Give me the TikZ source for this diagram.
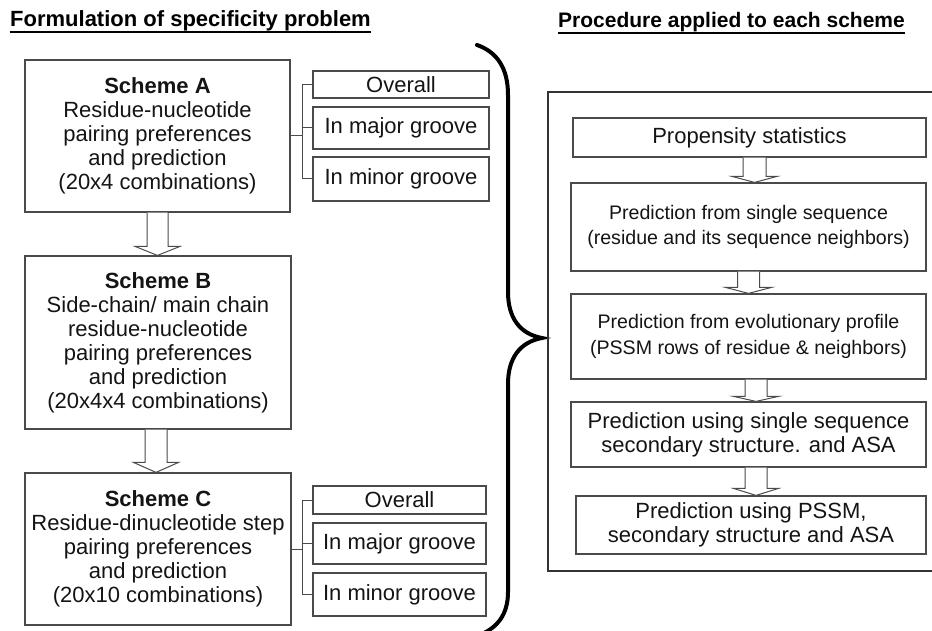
\documentclass[tikz,border=0pt]{standalone}
\usepackage{fontspec}
\setmainfont{Liberation Sans}
\usetikzlibrary{calc}
\definecolor{txt}{HTML}{141414}
\definecolor{edge}{HTML}{4A4A4A}
\tikzset{
  box/.style={draw=edge, line width=1.2pt, rectangle, inner sep=0pt, align=center,
    text=txt, font={\fontsize{22}{24}\selectfont}},
  smallbox/.style={box},
  rbox/.style={box},
  rboxsmall/.style={box, font={\fontsize{19.6}{25.5}\selectfont}},
  title/.style={inner sep=0pt, text=black, font={\fontsize{21.5}{24}\selectfont\bfseries}},
  uline/.style={line width=1.5pt, black},
  tree/.style={draw=edge, line width=1pt},
  barrow/.style={draw=edge, line width=1pt, fill=white, line join=miter},
  brace/.style={line width=4pt, black, line cap=round},
  outer/.style={draw=black!80, line width=1.2pt}
}
% #1 from node, #2 to node, #3 x offset (pt), #4 shaft half width, #5 head half width, #6 head length
\newcommand\blockarr[6]{%
  \draw[barrow] let \p1=($(#1.south)+(#3pt,0)$), \p2=($(#2.north)+(#3pt,0)$) in
    (\x1-#4pt,\y1) -- (\x1-#4pt,\y2+#6pt) -- (\x1-#5pt,\y2+#6pt) -- (\x1,\y2)
    -- (\x1+#5pt,\y2+#6pt) -- (\x1+#4pt,\y2+#6pt) -- (\x1+#4pt,\y1);}
\begin{document}
\begin{tikzpicture}[x=1pt, y=-1pt]
\useasboundingbox (0,0) rectangle (932,631);
\clip (0,0) rectangle (932,631);

% titles
\node[title, anchor=base west, font={\fontsize{22}{24}\selectfont\bfseries}] (t1) at (10,27) {Formulation of specificity problem};
\draw[uline] ([yshift=-5pt]t1.base west) -- ([yshift=-5pt]t1.base east);
\node[title, anchor=base west, font={\fontsize{21}{24}\selectfont\bfseries}] (t2) at (558,28) {Procedure applied to each scheme};
\draw[uline] ([yshift=-5pt]t2.base west) -- ([yshift=-5pt]t2.base east);

% schemes
\node[box, minimum width=265pt, minimum height=152pt] (A) at (157.5,136)
  {\textbf{Scheme A}\\Residue-nucleotide\\pairing preferences\\and prediction\\(20x4 combinations)};
\node[box, minimum width=266pt, minimum height=173pt] (B) at (158,342.5)
  {\textbf{Scheme B}\\Side-chain/ main chain\\residue-nucleotide\\pairing preferences\\and prediction\\(20x4x4 combinations)};
\node[box, minimum width=266pt, minimum height=152pt] (C) at (158,549)
  {\textbf{Scheme C}\\Residue-dinucleotide step\\pairing preferences\\and prediction\\(20x10 combinations)};

% small boxes for A
\node[smallbox, minimum width=176pt, minimum height=27pt] (oA) at (401,84.5) {Overall};
\node[smallbox, minimum width=176pt, minimum height=42pt] (mA) at (401,128) {In major groove};
\node[smallbox, minimum width=176pt, minimum height=44pt] (nA) at (401,179) {In minor groove};
% small boxes for C
\node[smallbox, minimum width=173pt, minimum height=28pt] (oC) at (399.5,500) {Overall};
\node[smallbox, minimum width=173pt, minimum height=41pt] (mC) at (399.5,543.5) {In major groove};
\node[smallbox, minimum width=173pt, minimum height=43pt] (nC) at (399.5,594.5) {In minor groove};

% tree connectors
\coordinate (jA) at (302,136);
\draw[tree] (A.east |- jA) -- (jA);
\draw[tree] (oA.west) -| (jA);
\draw[tree] (mA.west) -| (jA);
\draw[tree] (nA.west) -| (jA);
\coordinate (jC) at (302,549);
\draw[tree] (C.east |- jC) -- (jC);
\draw[tree] (oC.west) -| (jC);
\draw[tree] (mC.west) -| (jC);
\draw[tree] (nC.west) -| (jC);

% block arrows between schemes
\blockarr{A}{B}{0}{10.5}{22.5}{9}
\blockarr{B}{C}{-2}{11}{22.5}{10}

% brace
\draw[brace] (477,45) .. controls (497,52) and (508,68) .. (508,95)
  -- (508,292) .. controls (508,318) and (520,334) .. (542,338)
  .. controls (520,342) and (508,358) .. (508,384)
  -- (508,592) .. controls (508,615) and (497,627) .. (482,634);

% right outer box
\draw[outer] (942,92) -- (548,92) -- (548,571) -- (942,571);

% right boxes
\node[rbox, minimum width=353pt, minimum height=39pt] (R1) at (749.5,137.5) {Propensity statistics};
\node[rboxsmall, minimum width=355pt, minimum height=88pt] (R2) at (748.5,227)
  {Prediction from single sequence\\(residue and its sequence neighbors)};
\node[rboxsmall, minimum width=355pt, minimum height=85pt] (R3) at (748.5,336.5)
  {Prediction from evolutionary profile\\(PSSM rows of residue \& neighbors)};
\node[rbox, minimum width=355pt, minimum height=65pt] (R4) at (748.5,434.5)
  {Prediction using single sequence\\secondary structure. and ASA};
\node[rbox, minimum width=350pt, minimum height=58pt] (R5) at (751,525)
  {Prediction using PSSM,\\secondary structure and ASA};

\blockarr{R1}{R2}{5}{11.5}{22.5}{6}
\blockarr{R2}{R3}{0}{11}{23}{6}
\blockarr{R3}{R4}{7.5}{11}{22.5}{5}
\blockarr{R4}{R5}{7.5}{11}{22.5}{7}
\end{tikzpicture}
\end{document}
